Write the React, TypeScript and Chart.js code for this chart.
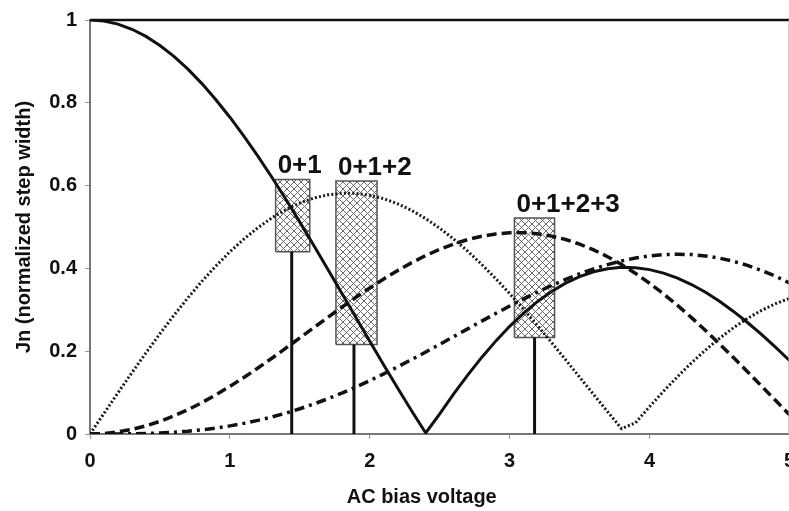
import React, { useEffect, useRef } from 'react';
import { Chart, registerables } from 'chart.js';

Chart.register(...registerables);

// AC bias voltage samples
const X_VALUES = [
  0.0, 0.1, 0.2, 0.3, 0.4, 0.5, 0.6, 0.7, 0.8, 0.9,
  1.0, 1.1, 1.2, 1.3, 1.4, 1.5, 1.6, 1.7, 1.8, 1.9,
  2.0, 2.1, 2.2, 2.3, 2.4, 2.5, 2.6, 2.7, 2.8, 2.9,
  3.0, 3.1, 3.2, 3.3, 3.4, 3.5, 3.6, 3.7, 3.8, 3.9,
  4.0, 4.1, 4.2, 4.3, 4.4, 4.5, 4.6, 4.7, 4.8, 4.9, 5.0,
];

// |J0| solid
const J0_VALUES = [
  1.0, 0.9975, 0.99, 0.9776, 0.9604, 0.9385, 0.912, 0.8812, 0.8463, 0.8075,
  0.7652, 0.7196, 0.6711, 0.6201, 0.5669, 0.5118, 0.4554, 0.398, 0.34, 0.2818,
  0.2239, 0.1666, 0.1104, 0.0555, 0.0025, 0.0484, 0.0968, 0.1424, 0.185, 0.2243,
  0.2601, 0.2921, 0.3202, 0.3443, 0.3643, 0.3801, 0.3918, 0.3992, 0.4026, 0.4018,
  0.3971, 0.3887, 0.3766, 0.361, 0.3423, 0.3205, 0.2961, 0.2693, 0.2404, 0.2097, 0.1776,
];

// |J1| dotted
const J1_VALUES = [
  0.0, 0.0499, 0.0995, 0.1483, 0.196, 0.2423, 0.2867, 0.329, 0.3688, 0.4059,
  0.4401, 0.4709, 0.4983, 0.522, 0.5419, 0.5579, 0.5699, 0.5778, 0.5815, 0.5812,
  0.5767, 0.5683, 0.556, 0.5399, 0.5202, 0.4971, 0.4708, 0.4416, 0.4097, 0.3754,
  0.3391, 0.3009, 0.2613, 0.2207, 0.1792, 0.1374, 0.0955, 0.0538, 0.0128, 0.0272,
  0.066, 0.1033, 0.1386, 0.1719, 0.2028, 0.2311, 0.2566, 0.2791, 0.2985, 0.3147, 0.3276,
];

// |J2| dashed
const J2_VALUES = [
  0.0, 0.0012, 0.005, 0.0112, 0.0197, 0.0306, 0.0437, 0.0588, 0.0758, 0.0946,
  0.1149, 0.1366, 0.1593, 0.183, 0.2074, 0.2321, 0.257, 0.2817, 0.3061, 0.3299,
  0.3528, 0.3746, 0.3951, 0.4139, 0.431, 0.4461, 0.459, 0.4696, 0.4777, 0.4832,
  0.4861, 0.4862, 0.4835, 0.478, 0.4697, 0.4586, 0.4448, 0.4283, 0.4093, 0.3879,
  0.3641, 0.3383, 0.3105, 0.2811, 0.2501, 0.2178, 0.1846, 0.1506, 0.1161, 0.0813, 0.0466,
];

// |J3| dash-dot
const J3_VALUES = [
  0.0, 0.0, 0.0002, 0.0006, 0.0013, 0.0026, 0.0044, 0.0069, 0.0102, 0.0144,
  0.0196, 0.0257, 0.0329, 0.0411, 0.0505, 0.061, 0.0725, 0.0851, 0.0988, 0.1134,
  0.1289, 0.1453, 0.1623, 0.18, 0.1981, 0.2166, 0.2353, 0.254, 0.2727, 0.2911,
  0.3091, 0.3264, 0.3431, 0.3588, 0.3734, 0.3868, 0.3988, 0.4092, 0.418, 0.425,
  0.4302, 0.4333, 0.4344, 0.4333, 0.4301, 0.4247, 0.4171, 0.4072, 0.3952, 0.3811, 0.3648,
];

// Hatched boxes
const BOX_LABELS = ['0+1', '0+1+2', '0+1+2+3'];
const BOX_LEFT = [1.327, 1.758, 3.034];
const BOX_RIGHT = [1.571, 2.052, 3.321];
const BOX_TOP = [0.615, 0.611, 0.522];
const BOX_BOTTOM = [0.44, 0.216, 0.233];
const STEM_X = [1.442, 1.887, 3.178];

const X_TICKS = ['0', '1', '2', '3', '4', '5'];
const Y_TICKS = ['0', '0.2', '0.4', '0.6', '0.8', '1'];
const X_TITLE = 'AC bias voltage';
const Y_TITLE = 'Jn (normalized step width)';

const FONT = '"Liberation Sans", Arial, sans-serif';

function makeHatch(): CanvasPattern | string {
  const c = document.createElement('canvas');
  const s = 7;
  c.width = s;
  c.height = s;
  const g = c.getContext('2d');
  if (!g) return '#ccc';
  g.fillStyle = 'rgba(255,255,255,0.55)';
  g.fillRect(0, 0, s, s);
  g.strokeStyle = '#6a6a6a';
  g.lineWidth = 1;
  g.beginPath();
  g.moveTo(0, 0);
  g.lineTo(s, s);
  g.moveTo(s, 0);
  g.lineTo(0, s);
  g.stroke();
  return g.createPattern(c, 'repeat') || '#ccc';
}

const framePlugin = {
  id: 'frame',
  afterDatasetsDraw(chart: any) {
    const { ctx, chartArea } = chart;
    ctx.save();
    ctx.strokeStyle = '#111';
    ctx.lineWidth = 2.5;
    ctx.beginPath();
    ctx.moveTo(chartArea.left, chartArea.top);
    ctx.lineTo(chartArea.right, chartArea.top);
    ctx.stroke();
    ctx.strokeStyle = '#aaa';
    ctx.lineWidth = 1;
    ctx.beginPath();
    ctx.moveTo(chartArea.right - 0.5, chartArea.top);
    ctx.lineTo(chartArea.right - 0.5, chartArea.bottom);
    ctx.stroke();
    ctx.restore();
  },
};

const labelPlugin = {
  id: 'boxLabels',
  afterDraw(chart: any) {
    const { ctx, chartArea } = chart;
    const xs = chart.scales.x;
    const ys = chart.scales.y;
    ctx.save();
    ctx.fillStyle = '#111';
    ctx.font = `bold 26px ${FONT}`;
    ctx.textAlign = 'left';
    ctx.textBaseline = 'alphabetic';
    BOX_LABELS.forEach((t, i) => {
      ctx.fillText(t, xs.getPixelForValue(BOX_LEFT[i]) + 2, ys.getPixelForValue(BOX_TOP[i]) - 6);
    });
    // x axis title (slightly left of centre, as in the reference)
    ctx.font = `bold 20px ${FONT}`;
    ctx.textAlign = 'center';
    ctx.fillText(X_TITLE, (chartArea.left + chartArea.right) / 2 - 18, chart.height - 8);
    ctx.restore();
  },
};

export default function App() {
  const ref = useRef<HTMLCanvasElement | null>(null);

  useEffect(() => {
    if (!ref.current) return;
    const hatch = makeHatch();
    const pts = (ys: number[]) => X_VALUES.map((x, i) => ({ x, y: ys[i] }));

    const curve = (data: number[], dash: number[], width: number, color: string) => ({
      data: pts(data),
      borderColor: color,
      borderWidth: width,
      borderDash: dash,
      pointRadius: 0,
      tension: 0,
      fill: false,
      order: 0,
    });

    const boxFills = BOX_LABELS.map((_, i) => ({
      data: [
        { x: BOX_LEFT[i], y: BOX_TOP[i] },
        { x: BOX_RIGHT[i], y: BOX_TOP[i] },
      ],
      borderWidth: 0,
      borderColor: 'rgba(0,0,0,0)',
      backgroundColor: hatch,
      fill: { value: BOX_BOTTOM[i] },
      pointRadius: 0,
      order: 20,
    }));

    const boxOutlines = BOX_LABELS.map((_, i) => ({
      data: [
        { x: BOX_LEFT[i], y: BOX_BOTTOM[i] },
        { x: BOX_LEFT[i], y: BOX_TOP[i] },
        { x: BOX_RIGHT[i], y: BOX_TOP[i] },
        { x: BOX_RIGHT[i], y: BOX_BOTTOM[i] },
        { x: BOX_LEFT[i], y: BOX_BOTTOM[i] },
      ],
      borderColor: '#555',
      borderWidth: 1.5,
      pointRadius: 0,
      tension: 0,
      fill: false,
      order: 15,
    }));

    const stems = STEM_X.map((x, i) => ({
      data: [
        { x, y: 0 },
        { x, y: BOX_BOTTOM[i] },
      ],
      borderColor: '#111',
      borderWidth: 3,
      pointRadius: 0,
      fill: false,
      order: 5,
    }));

    const chart = new Chart(ref.current, {
      type: 'line',
      data: {
        datasets: [
          curve(J0_VALUES, [], 3, '#111'),
          curve(J1_VALUES, [2, 2.2], 3, '#1a1a1a'),
          curve(J2_VALUES, [10, 5], 3.5, '#111'),
          curve(J3_VALUES, [10, 5, 3, 5], 3.5, '#111'),
          ...stems,
          ...boxOutlines,
          ...boxFills,
        ] as any,
      },
      options: {
        animation: false,
        responsive: false,
        devicePixelRatio: 1,
        layout: { padding: { left: 0, top: 18, right: 4, bottom: 0 } },
        plugins: {
          legend: { display: false },
          tooltip: { enabled: false },
        },
        scales: {
          x: {
            type: 'linear',
            min: 0,
            max: 5,
            afterFit: (s: any) => {
              s.height = 77;
            },
            ticks: {
              stepSize: 1,
              padding: 10,
              color: '#111',
              font: { family: FONT, size: 20, weight: 'bold' },
              callback: (v: any) => X_TICKS[Math.round(Number(v))],
            },
            grid: {
              drawOnChartArea: false,
              drawTicks: true,
              tickLength: 5,
              color: '#999',
              lineWidth: 1,
            },
            border: { display: true, color: '#777', width: 2 },
            title: { display: false },
          },
          y: {
            type: 'linear',
            min: 0,
            max: 1,
            afterFit: (s: any) => {
              s.width = 90;
            },
            ticks: {
              stepSize: 0.2,
              padding: 8,
              color: '#111',
              font: { family: FONT, size: 20, weight: 'bold' },
              callback: (v: any) => Y_TICKS[Math.round(Number(v) * 5)],
            },
            grid: {
              drawOnChartArea: false,
              drawTicks: true,
              tickLength: 5,
              color: '#999',
              lineWidth: 1,
            },
            border: { display: true, color: '#777', width: 2 },
            title: {
              display: true,
              text: Y_TITLE,
              color: '#111',
              font: { family: FONT, size: 20, weight: 'bold' },
              padding: { top: 12, bottom: 0 },
            },
          },
        },
      } as any,
      plugins: [framePlugin, labelPlugin],
    });

    return () => chart.destroy();
  }, []);

  return (
    <div style={{ position: 'absolute', left: 0, top: 0, width: 789, height: 511, overflow: 'hidden', background: '#fff' }}>
      <canvas ref={ref} width={805} height={511} style={{ display: 'block' }} />
    </div>
  );
}
